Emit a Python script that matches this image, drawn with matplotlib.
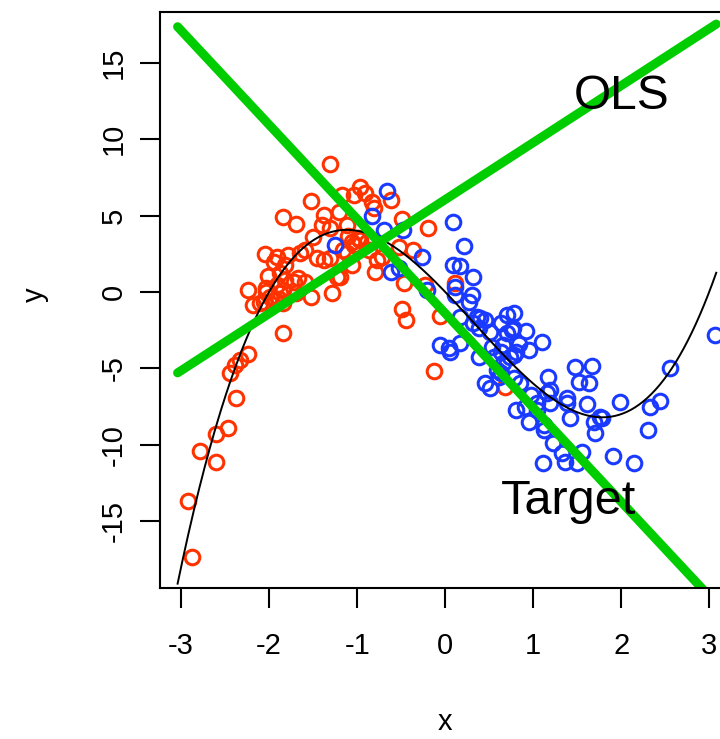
import numpy as np
import matplotlib.pyplot as plt

plt.rcParams['font.family'] = 'Liberation Sans'
plt.rcParams['axes.unicode_minus'] = False

# red group (mostly left of zero)
red_x = [-2.88, -2.92, -2.79, -2.60, -2.60, -2.47, -2.38, -2.45, -2.39, -2.33,
         -2.24, -1.84, -0.13, -1.31, -1.53, -1.84, -1.70, -1.38, -1.21, -1.40,
         -1.31, -1.12, -0.97, -0.91, -1.04, -1.17, -0.83, -0.81, -1.50, -1.10,
         -0.99, -1.04, -0.89, -1.16, -1.59, -1.65, -1.78, -1.91, -2.05, -1.95,
         -1.82, -1.38, -1.31, -1.06, -1.23, -2.01, -1.88, -1.67, -1.59, -1.91,
         -2.03, -1.84, -1.69, -1.53, -2.24, -2.18, -2.06, -1.89, -1.29, -0.78,
         -0.80, -0.72, -0.87, -0.61, -0.49, -0.19, -0.53, -0.36, -0.47, -0.23,
         0.11, -0.49, -0.45, -0.06, 0.68, -2.10, -1.82, -1.12, -0.97, -1.06,
         -1.19, -1.93, -1.84, -1.88, -2.03, -1.46, -1.72, -1.99]
red_y = [-17.33, -13.68, -10.39, -11.11, -9.30, -8.93, -6.92, -5.33, -4.78, -4.46,
         -4.08, -2.71, -5.18, 8.37, 5.97, 4.92, 4.44, 5.03, 5.25, 4.38,
         4.16, 4.38, 6.89, 6.49, 6.34, 6.34, 5.90, 5.47, 3.57, 3.66,
         3.51, 3.07, 3.29, 2.74, 2.74, 2.53, 2.41, 2.30, 2.48, 1.98,
         1.76, 2.09, 2.20, 1.76, 0.99, 1.04, 1.22, 0.89, 0.67, 0.45,
         0.24, 0.12, -0.09, -0.31, 0.12, -0.86, -0.64, -0.48, -0.05, 2.09,
         1.32, 2.30, 2.74, 6.01, 4.75, 4.20, 2.96, 2.74, 0.56, 0.45,
         0.60, -1.14, -1.84, -1.58, -6.24, -0.75, 0.78, 2.53, 3.40, 3.29,
         0.99, -0.53, -0.75, -0.09, 0.01, 2.20, 0.67, -0.31]

# blue group (mostly right of zero)
blue_x = [-0.66, -0.83, -0.69, -0.48, -1.25, -0.26, -0.61, -0.52, 0.09, 0.09,
          -0.21, 0.11, 0.21, 0.17, 0.32, 0.11, 0.30, 0.27, 0.17, 0.36,
          0.45, 0.38, 0.51, 0.63, 0.70, -0.06, 0.17, 0.04, 0.66, 0.78,
          0.92, 0.77, 1.10, 0.84, 0.95, 0.06, 0.38, 0.53, 0.64, 0.74,
          0.59, 0.45, 0.51, 0.63, 0.78, 0.85, 1.17, 1.48, 1.67, 1.52,
          1.63, 0.97, 1.16, 1.04, 1.19, 1.38, 1.61, 0.80, 0.91, 0.95,
          1.12, 1.42, 1.69, 1.76, 1.70, 1.99, 2.31, 2.33, 2.44, 2.56,
          3.07, 1.23, 1.33, 1.55, 1.11, 1.36, 1.50, 1.91, 2.14, 0.40,
          0.76, 0.66, 0.78, 0.61, 1.78, 1.12, 0.32, 0.70, 0.81, 0.55,
          1.04, 1.19, 1.38]
blue_y = [6.62, 4.97, 4.05, 4.05, 3.05, 2.26, 1.32, 1.54, 4.59, 1.76,
          0.12, 0.34, 3.00, 1.70, 0.99, -0.20, -0.20, -0.64, -1.62, -1.62,
          -1.84, -2.38, -2.60, -2.05, -2.71, -3.48, -3.36, -3.70, -3.48, -1.40,
          -2.56, -2.38, -3.26, -3.41, -3.80, -3.91, -4.24, -3.59, -3.91, -4.24,
          -5.11, -5.98, -6.31, -5.33, -5.66, -5.98, -5.55, -4.89, -4.83, -5.88,
          -5.94, -6.75, -6.64, -7.29, -7.29, -6.96, -7.34, -7.73, -7.51, -8.49,
          -9.04, -8.27, -8.49, -8.17, -9.25, -7.19, -9.04, -7.51, -7.14, -5.00,
          -2.82, -9.91, -10.56, -10.46, -11.18, -11.11, -11.22, -10.74, -11.22, -1.73,
          -2.49, -4.67, -4.13, -5.55, -8.27, -8.71, -2.05, -1.51, -3.91, -4.24,
          -7.73, -6.42, -7.29]

# true curve, cubic coefficients (highest power first)
curve_coef = [1, -1, -6, 0]
# fitted lines: slope, intercept
ols_coef = [3.73, 6.04]
target_coef = [-6.17, -1.40]
x_range = [-3.04, 3.08]

x_ticks = [-3, -2, -1, 0, 1, 2, 3]
y_ticks = [-15, -10, -5, 0, 5, 10, 15]

fig = plt.figure(figsize=(7.2, 7.39), dpi=100)
ax = fig.add_axes([160 / 720, 150.7 / 739, 580 / 720, 576 / 739])

ax.plot(red_x, red_y, 'o', mfc='none', mec='#FF3300', ms=10.5, mew=2.2)
ax.plot(blue_x, blue_y, 'o', mfc='none', mec='#1A3AFF', ms=10.5, mew=2.2)

xs = np.linspace(x_range[0], x_range[1], 400)
ax.plot(xs, np.polyval(curve_coef, xs), color='black', lw=1.4)

green = '#00CD00'
ax.plot(x_range, np.polyval(ols_coef, x_range), color=green, lw=6.5,
        solid_capstyle='round')
ax.plot(x_range, np.polyval(target_coef, x_range), color=green, lw=6.5,
        solid_capstyle='round')

ax.text(2.01, 12.82, 'OLS', fontsize=34.5, ha='center', va='center')
ax.text(1.40, -13.74, 'Target', fontsize=35, ha='center', va='center')

ax.set_xlim(-3.24, 3.35)
ax.set_ylim(-19.40, 18.30)
ax.set_xticks(x_ticks)
ax.set_xticklabels([str(t) for t in x_ticks])
ax.set_yticks(y_ticks)
ax.set_yticklabels([str(t) for t in y_ticks], rotation=90, va='center')

for s in ax.spines.values():
    s.set_linewidth(1.5)
ax.tick_params(direction='out', length=14.4, width=1.5, labelsize=21)
ax.tick_params(axis='x', pad=17)
ax.tick_params(axis='y', pad=9)

fig.text(445 / 720, 1 - 722 / 739, 'x', fontsize=21, ha='center', va='center')
fig.text(35 / 720, 1 - 295 / 739, 'y', fontsize=21, ha='center', va='center',
         rotation=90)

fig.savefig('out.png', dpi=100)
